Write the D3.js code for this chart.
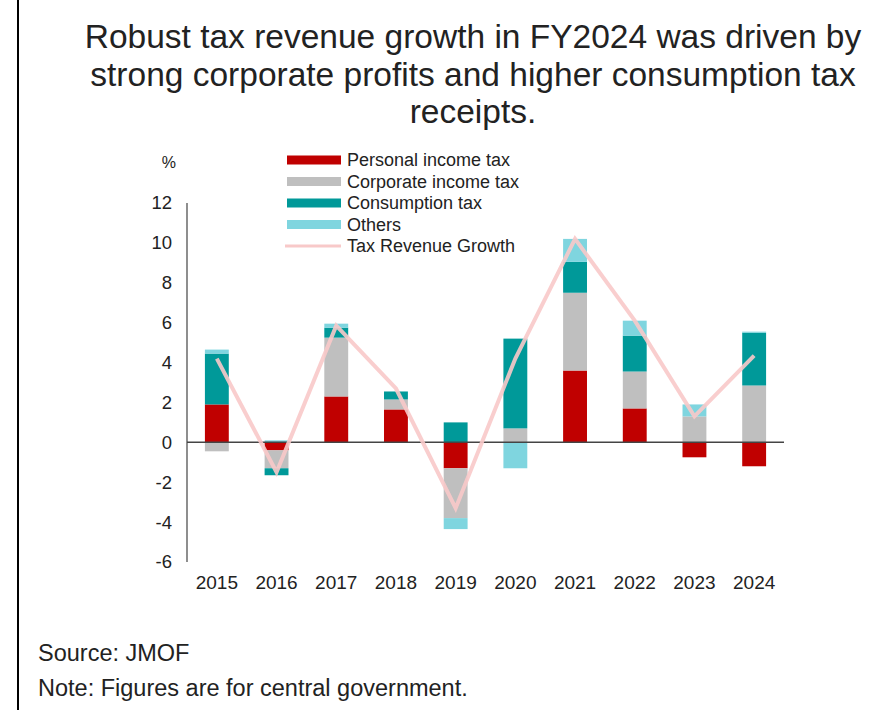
<!DOCTYPE html>
<html><head><meta charset="utf-8">
<script src="https://cdn.jsdelivr.net/npm/d3@7"></script>
<style>body{margin:0;background:#fff;}svg{display:block;font-family:"Liberation Sans",Arial,sans-serif;}</style>
</head><body>
<svg id="c" width="881" height="710"></svg>
<script>
const years = ["2015","2016","2017","2018","2019","2020","2021","2022","2023","2024"];
const personal   = [1.9, -0.4, 2.3, 1.65, -1.3, 0.0, 3.6, 1.7, -0.75, -1.2];
const corporate  = [-0.45, -0.9, 2.95, 0.5, -2.5, 0.7, 3.9, 1.85, 1.3, 2.85];
const consumption= [2.55, -0.35, 0.5, 0.4, 1.0, 4.5, 1.55, 1.8, 0.0, 2.65];
const others     = [0.2, 0.1, 0.2, 0.0, -0.55, -1.3, 1.15, 0.75, 0.6, 0.05];
const growth     = [4.2, -1.5, 5.85, 2.7, -3.3, 4.2, 10.2, 6.1, 1.3, 4.35];
const yTicks = [12,10,8,6,4,2,0,-2,-4,-6];
const seriesNames = ["Personal income tax","Corporate income tax","Consumption tax","Others"];
const seriesColors = ["#c00000","#bfbfbf","#009999","#7fd5df"];
const lineName = "Tax Revenue Growth";
const lineColor = "#f8c9c9";
const titleLines = ["Robust tax revenue growth in FY2024 was driven by","strong corporate profits and higher consumption tax","receipts."];

const svg = d3.select("#c");
svg.append("line").attr("x1",18).attr("x2",18).attr("y1",0).attr("y2",710).attr("stroke","#000").attr("stroke-width",2);

svg.append("g").selectAll("text").data(titleLines).join("text")
  .attr("x",473).attr("y",(d,i)=>48+i*37.5).attr("text-anchor","middle")
  .attr("font-size",33.5).attr("fill","#222").text(d=>d);

const x = d3.scaleBand().domain(years).range([187,784]).paddingInner(0.6).paddingOuter(0.3);
const y = d3.scaleLinear().domain([-6,12]).range([562,203]);

// y axis
svg.append("line").attr("x1",187).attr("x2",187).attr("y1",y(12)).attr("y2",y(-6)).attr("stroke","#444").attr("stroke-width",1.2);
svg.append("g").selectAll("text").data(yTicks).join("text")
  .attr("x",172).attr("y",d=>y(d)).attr("dy","0.35em").attr("text-anchor","end")
  .attr("font-size",18.5).attr("fill","#222").text(d=>d);
svg.append("text").attr("x",176).attr("y",162).attr("dy","0.35em").attr("text-anchor","end").attr("font-size",16).attr("fill","#222").text("%");

// stacked bars
const data = [personal,corporate,consumption,others];
years.forEach((yr,i)=>{
  let pos=0, neg=0;
  data.forEach((s,k)=>{
    const v=s[i];
    if(v===0) return;
    let y0,y1;
    if(v>0){y0=pos;y1=pos+v;pos=y1;} else {y0=neg;y1=neg+v;neg=y1;}
    svg.append("rect").attr("x",x(yr)).attr("width",x.bandwidth())
      .attr("y",y(Math.max(y0,y1))).attr("height",Math.abs(y(y0)-y(y1)))
      .attr("fill",seriesColors[k]);
  });
});

// zero line
svg.append("line").attr("x1",187).attr("x2",784).attr("y1",y(0)).attr("y2",y(0)).attr("stroke","#444").attr("stroke-width",1.5);

// growth line
const line = d3.line().x((d,i)=>x(years[i])+x.bandwidth()/2).y(d=>y(d));
svg.append("path").attr("d",line(growth)).attr("fill","none").attr("stroke",lineColor).attr("stroke-width",4).attr("stroke-linejoin","miter").attr("opacity",0.9);

// x labels
svg.append("g").selectAll("text").data(years).join("text")
  .attr("x",d=>x(d)+x.bandwidth()/2).attr("y",582).attr("dy","0.35em").attr("text-anchor","middle")
  .attr("font-size",19).attr("fill","#222").text(d=>d);

// legend
const lg = svg.append("g");
seriesNames.forEach((n,k)=>{
  const cy=160+k*21.5;
  lg.append("rect").attr("x",287).attr("y",cy-4.5).attr("width",54).attr("height",9).attr("fill",seriesColors[k]);
  lg.append("text").attr("x",347).attr("y",cy).attr("dy","0.35em").attr("font-size",18).attr("fill","#222").text(n);
});
lg.append("line").attr("x1",285).attr("x2",341).attr("y1",246).attr("y2",246).attr("stroke",lineColor).attr("stroke-width",3);
lg.append("text").attr("x",347).attr("y",246).attr("dy","0.35em").attr("font-size",18).attr("fill","#222").text(lineName);

// footer
svg.append("text").attr("x",38).attr("y",661).attr("font-size",23.5).attr("fill","#222").text("Source: JMOF");
svg.append("text").attr("x",38).attr("y",696).attr("font-size",23.5).attr("fill","#222").text("Note: Figures are for central government.");
</script>
</body></html>
